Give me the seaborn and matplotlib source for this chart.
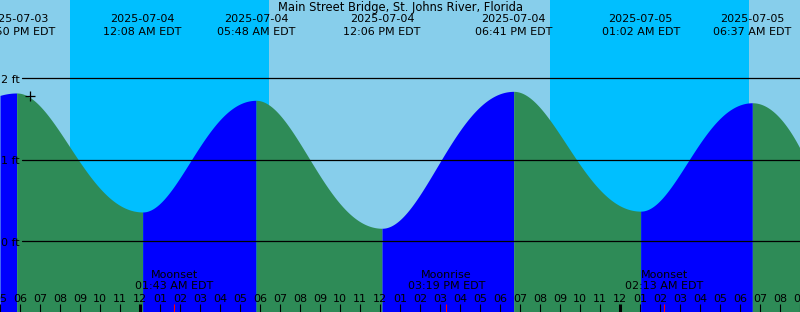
import numpy as np
import pandas as pd
import matplotlib
matplotlib.use("Agg")
import matplotlib.pyplot as plt
import matplotlib.transforms as mtrans
import seaborn as sns

# ---------------- data ----------------
title = "Main Street Bridge, St. Johns River, Florida"
ref_day = "2025-07-04 00:00"

# tide extremes (local time EDT) and heights (ft)
extreme_times = ["2025-07-03 17:50", "2025-07-04 00:08", "2025-07-04 05:48",
                 "2025-07-04 12:06", "2025-07-04 18:41", "2025-07-05 01:02",
                 "2025-07-05 06:37"]
extreme_heights = [1.82, 0.36, 1.73, 0.16, 1.84, 0.37, 1.70]

# readings of the tide curve at the chart edges
edge_times = ["2025-07-03 17:00", "2025-07-05 09:00"]
edge_heights = [1.79, 1.14]

# sun (night shading)
sunset_times = ["2025-07-03 20:30", "2025-07-04 20:30"]
sunrise_times = ["2025-07-04 06:27", "2025-07-05 06:27"]

# moon events
moon_events = ["Moonset", "Moonrise", "Moonset"]
moon_times = ["2025-07-04 01:43", "2025-07-04 15:19", "2025-07-05 02:13"]

# current-time marker
marker_time = ["2025-07-03 18:30"]
marker_height = [1.78]

datum_levels = [0, 1, 2]

# ---------------- helpers ----------------
t0 = pd.Timestamp(ref_day)


def hrs(ts):
    return np.array([(pd.Timestamp(t) - t0).total_seconds() / 3600.0 for t in ts])


SKEW = 0.2  # curve shape between extremes (tide curve leaves extremes a bit faster)


def between_extremes(xa, ya, xb, yb, xs):
    s = (xs - xa) / (xb - xa)
    u = s + SKEW * s * (1 - s)
    return ya + (yb - ya) * (1 - np.cos(np.pi * u)) / 2


def parabola_to_extreme(x_ext, y_ext, x_edge, y_edge, xs):
    k = (y_edge - y_ext) / (x_edge - x_ext) ** 2
    return y_ext + k * (xs - x_ext) ** 2


ex_x = hrs(extreme_times)
ex_y = np.array(extreme_heights)
ed_x = hrs(edge_times)
ed_y = np.array(edge_heights)

sns.set_style("white")
plt.rcParams["font.family"] = ["DejaVu Sans"]

W, H = 800, 312
fig = plt.figure(figsize=(W / 100, H / 100), dpi=100)
ax = fig.add_axes([0, 0, 1, 1])
ax.set_xlim(-7, 33)
px_per_ft = 81.5
zero_px = 241.3
ax.set_ylim((zero_px - H) / px_per_ft, zero_px / px_per_ft)
ax.set_facecolor("#87CEEB")
for s in ax.spines.values():
    s.set_visible(False)
ax.set_xticks([]); ax.set_yticks([])

# night shading
for ss, sr in zip(hrs(sunset_times), hrs(sunrise_times)):
    ax.axvspan(ss, sr, color="#00BFFF", lw=0, zorder=0.5)

# tide fill: blue rising, green falling
ybot = ax.get_ylim()[0]


def fill_seg(xs, ys):
    rising = ys[-1] > ys[0]
    ax.fill_between(xs, ybot, ys, color="#0000FF" if rising else "#2E8B57",
                    lw=0, zorder=1)


xs = np.linspace(ed_x[0], ex_x[0], 60)
fill_seg(xs, parabola_to_extreme(ex_x[0], ex_y[0], ed_x[0], ed_y[0], xs))
for i in range(len(ex_x) - 1):
    xs = np.linspace(ex_x[i], ex_x[i + 1], 300)
    fill_seg(xs, between_extremes(ex_x[i], ex_y[i], ex_x[i + 1], ex_y[i + 1], xs))
xs = np.linspace(ex_x[-1], ed_x[1] + 0.05, 100)
fill_seg(xs, parabola_to_extreme(ex_x[-1], ex_y[-1], ed_x[1], ed_y[1], xs))

# datum lines and labels
fs = 8.0
ytrans = mtrans.blended_transform_factory(ax.transAxes, ax.transData)
for v in datum_levels:
    ax.axhline(v, xmin=22 / W, xmax=1, color="black", lw=0.9, zorder=3)
    ax.text(20 / W, v - 4.4 / px_per_ft, f"{v} ft", transform=ytrans, ha="right",
            va="baseline", fontsize=fs, color="black", zorder=4)

# marker
sns.scatterplot(x=hrs(marker_time), y=marker_height, marker="+", s=60,
                color="black", linewidth=0.9, ax=ax, zorder=5)

# title
ax.text(0.5, (H - 11) / H, title, transform=ax.transAxes, ha="center", va="baseline",
        fontsize=8.3, color="black")

# extreme labels
xtrans = mtrans.blended_transform_factory(ax.transData, ax.transAxes)
for t, x in zip(extreme_times, ex_x):
    ts = pd.Timestamp(t)
    ax.text(x, (H - 21.7) / H, ts.strftime("%Y-%m-%d"), transform=xtrans,
            ha="center", va="baseline", fontsize=fs, color="black", clip_on=False)
    ax.text(x, (H - 35) / H, ts.strftime("%I:%M %p") + " EDT", transform=xtrans,
            ha="center", va="baseline", fontsize=fs, color="black", clip_on=False)

# hour ticks
for hh in range(-7, 34):
    lab = f"{(hh % 12) or 12:02d}"
    ax.text(hh, (H - 302.3) / H, lab, transform=xtrans, ha="center", va="baseline",
            fontsize=fs, color="black", clip_on=False)
    thick = (hh % 24 == 0)
    ax.plot([hh, hh], [0, 8 / H], transform=xtrans, color="black",
            lw=2.2 if thick else 0.8, solid_capstyle="butt", zorder=6)

# moon events
for name, t, x in zip(moon_events, moon_times, hrs(moon_times)):
    ts = pd.Timestamp(t)
    ax.text(x, (H - 278.3) / H, name, transform=xtrans, ha="center", va="baseline",
            fontsize=fs, color="black")
    ax.text(x, (H - 289.3) / H, ts.strftime("%I:%M %p") + " EDT", transform=xtrans,
            ha="center", va="baseline", fontsize=fs, color="black")
    ax.plot([x, x], [0, 8 / H], transform=xtrans, color="#FF0000", lw=0.8,
            solid_capstyle="butt", zorder=6)

if ax.get_legend() is not None:
    ax.get_legend().remove()
fig.savefig("out.png", dpi=100)
